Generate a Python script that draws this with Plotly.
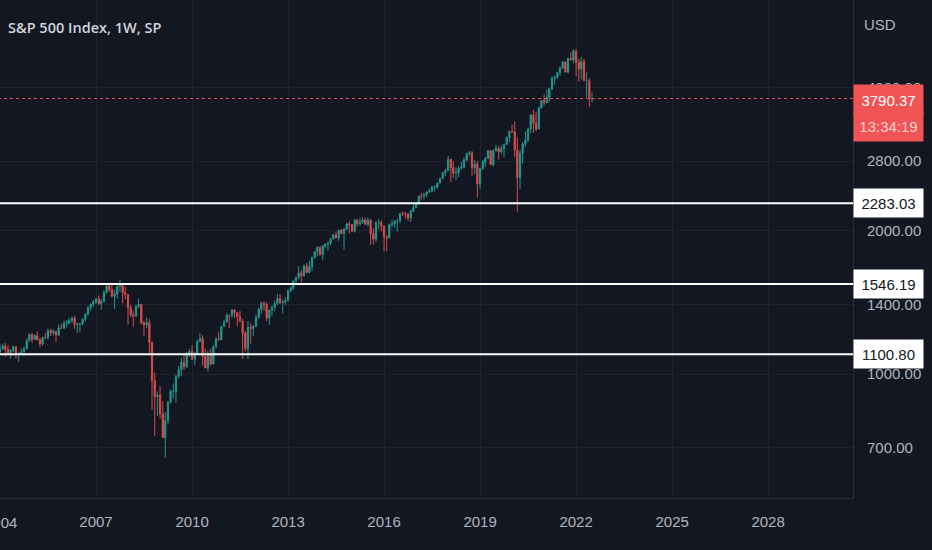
import math
import pandas as pd
import plotly.graph_objects as go

# S&P 500 monthly bars, Dec 2003 .. Jul 2022 (values read off the chart / estimated)
closes = [
    1111.92,
    1131.13, 1144.94, 1126.21, 1107.30, 1120.68, 1140.84, 1101.72, 1104.24, 1114.58, 1130.20, 1173.82, 1211.92,
    1181.27, 1203.60, 1180.59, 1156.85, 1191.50, 1191.33, 1234.18, 1220.33, 1228.81, 1207.01, 1249.48, 1248.29,
    1280.08, 1280.66, 1294.87, 1310.61, 1270.09, 1270.20, 1276.66, 1303.82, 1335.85, 1377.94, 1400.63, 1418.30,
    1438.24, 1406.82, 1420.86, 1482.37, 1530.62, 1503.35, 1455.27, 1473.99, 1526.75, 1549.38, 1481.14, 1468.36,
    1378.55, 1330.63, 1322.70, 1385.59, 1400.38, 1280.00, 1267.38, 1282.83, 1166.36, 968.75, 896.24, 903.25,
    825.88, 735.09, 797.87, 872.81, 919.14, 919.32, 987.48, 1020.62, 1057.08, 1036.19, 1095.63, 1115.10,
    1073.87, 1104.49, 1169.43, 1186.69, 1089.41, 1030.71, 1101.60, 1049.33, 1141.20, 1183.26, 1180.55, 1257.64,
    1286.12, 1327.22, 1325.83, 1363.61, 1345.20, 1320.64, 1292.28, 1218.89, 1131.42, 1253.30, 1246.96, 1257.60,
    1312.41, 1365.68, 1408.47, 1397.91, 1310.33, 1362.16, 1379.32, 1406.58, 1440.67, 1412.16, 1416.18, 1426.19,
    1498.11, 1514.68, 1569.19, 1597.57, 1630.74, 1606.28, 1685.73, 1632.97, 1681.55, 1756.54, 1805.81, 1848.36,
    1782.59, 1859.45, 1872.34, 1883.95, 1923.57, 1960.23, 1930.67, 2003.37, 1972.29, 2018.05, 2067.56, 2058.90,
    1994.99, 2104.50, 2067.89, 2085.51, 2107.39, 2063.11, 2103.84, 1972.18, 1920.03, 2079.36, 2080.41, 2043.94,
    1940.24, 1932.23, 2059.74, 2065.30, 2096.95, 2098.86, 2173.60, 2170.95, 2168.27, 2126.15, 2198.81, 2238.83,
    2278.87, 2363.64, 2362.72, 2384.20, 2411.80, 2423.41, 2470.30, 2471.65, 2519.36, 2575.26, 2647.58, 2673.61,
    2823.81, 2713.83, 2640.87, 2648.05, 2705.27, 2718.37, 2816.29, 2901.52, 2913.98, 2711.74, 2760.17, 2506.85,
    2704.10, 2784.49, 2834.40, 2945.83, 2752.06, 2941.76, 2980.38, 2926.46, 2976.74, 3037.56, 3140.98, 3230.78,
    3225.52, 2954.22, 2584.59, 2912.43, 3044.31, 3100.29, 3271.12, 3500.31, 3363.00, 3269.96, 3621.63, 3756.07,
    3714.24, 3811.15, 3972.89, 4181.17, 4204.11, 4297.50, 4395.26, 4522.68, 4307.54, 4605.38, 4567.00, 4766.18,
    4515.55, 4373.94, 4530.41, 4131.93, 4132.15, 3785.38, 3790.37,
]

highs = [
    1155, 1158, 1163, 1151, 1128, 1146, 1140, 1109, 1132, 1142, 1188, 1217,
    1217, 1212, 1229, 1191, 1199, 1219, 1246, 1245, 1243, 1233, 1270, 1276,
    1295, 1298, 1311, 1318, 1326, 1285, 1280, 1307, 1340, 1390, 1407, 1431,
    1441, 1462, 1439, 1499, 1535, 1540, 1556, 1503, 1538, 1576, 1545, 1523,
    1471, 1396, 1359, 1397, 1440, 1404, 1293, 1313, 1304, 1167, 1007, 919,
    943, 876, 832, 877, 930, 956, 996, 1040, 1080, 1101, 1113, 1130,
    1150, 1113, 1180, 1220, 1207, 1131, 1120, 1130, 1148, 1196, 1227, 1263,
    1302, 1344, 1333, 1366, 1371, 1346, 1357, 1307, 1230, 1292, 1277, 1269,
    1334, 1378, 1420, 1422, 1415, 1364, 1392, 1426, 1475, 1471, 1434, 1448,
    1504, 1530, 1570, 1598, 1687, 1654, 1698, 1710, 1730, 1765, 1814, 1849,
    1851, 1868, 1884, 1897, 1925, 1968, 1992, 2006, 2019, 2018, 2076, 2093,
    2065, 2120, 2117, 2126, 2135, 2130, 2133, 2113, 2021, 2094, 2117, 2104,
    2039, 1962, 2073, 2111, 2103, 2121, 2178, 2194, 2188, 2175, 2214, 2278,
    2301, 2372, 2401, 2399, 2418, 2454, 2484, 2491, 2520, 2582, 2657, 2695,
    2873, 2836, 2801, 2718, 2742, 2791, 2848, 2917, 2941, 2940, 2815, 2800,
    2708, 2813, 2861, 2949, 2955, 2965, 3028, 3014, 3022, 3050, 3154, 3248,
    3338, 3394, 3136, 2955, 3068, 3233, 3280, 3514, 3588, 3550, 3646, 3760,
    3870, 3951, 3995, 4219, 4238, 4302, 4430, 4538, 4546, 4608, 4744, 4809,
    4819, 4595, 4637, 4593, 4307, 4178, 3900,
]

lows = [
    1105, 1124, 1087, 1107, 1076, 1113, 1078, 1060, 1099, 1090, 1127, 1173,
    1163, 1180, 1176, 1137, 1146, 1188, 1183, 1201, 1205, 1168, 1201, 1245,
    1245, 1253, 1268, 1280, 1245, 1219, 1224, 1265, 1290, 1327, 1360, 1385,
    1403, 1396, 1364, 1416, 1476, 1485, 1454, 1370, 1439, 1489, 1406, 1435,
    1270, 1317, 1257, 1325, 1373, 1272, 1200, 1248, 1107, 840, 741, 816,
    805, 735, 667, 783, 866, 888, 869, 979, 991, 1020, 1029, 1086,
    1071, 1045, 1101, 1170, 1041, 1028, 1011, 1040, 1047, 1132, 1173, 1187,
    1257, 1282, 1249, 1313, 1312, 1258, 1282, 1075, 1115, 1074, 1159, 1202,
    1259, 1312, 1341, 1358, 1292, 1267, 1326, 1355, 1396, 1403, 1343, 1398,
    1426, 1485, 1501, 1536, 1581, 1560, 1605, 1627, 1633, 1646, 1747, 1767,
    1770, 1737, 1834, 1815, 1860, 1915, 1930, 1905, 1964, 1821, 2001, 1973,
    1988, 1981, 2039, 2048, 2068, 2056, 2044, 1867, 1872, 1893, 2019, 1993,
    1812, 1810, 1937, 2034, 2025, 1992, 2075, 2148, 2120, 2097, 2084, 2187,
    2245, 2271, 2323, 2329, 2353, 2404, 2407, 2417, 2447, 2520, 2566, 2605,
    2683, 2533, 2586, 2553, 2594, 2691, 2699, 2796, 2864, 2604, 2631, 2347,
    2443, 2682, 2723, 2848, 2751, 2729, 2953, 2822, 2892, 2855, 3050, 3070,
    3214, 2855, 2192, 2447, 2766, 2999, 3073, 3205, 3210, 3234, 3279, 3633,
    3662, 3726, 3723, 3955, 4056, 4164, 4233, 4368, 4305, 4278, 4560, 4495,
    4223, 4115, 4157, 4131, 3811, 3637, 3722,
]

months = pd.date_range("2004-01-01", periods=len(highs), freq="MS")
opens = closes[:-1]
closes = closes[1:]

levels = [2283.03, 1546.19, 1100.80]
last_price = 3790.37
countdown = "13:34:19"

ytick_vals = [700, 1000, 1400, 2000, 2800, 4000]
ytick_text = ["700.00", "1000.00", "1400.00", "2000.00", "2800.00", "4000.00"]
xtick_years = [2007, 2010, 2013, 2016, 2019, 2022, 2025, 2028]
first_year = 2004  # label cut by the left edge

BG = "#131722"
GRID = "#1f232e"
AXIS_TXT = "#b2b5be"
UP = "#26a69a"
DOWN = "#ef5350"
FONT = "Liberation Sans, Arial, sans-serif"
TITLE_FONT = "Open Sans, Liberation Sans, sans-serif"

x_start, x_end = "2004-01-01", "2030-08-27"
line_x = ["2003-01-01", "2032-01-01"]

fig = go.Figure()

fig.add_trace(go.Candlestick(
    x=months, open=opens, high=highs, low=lows, close=closes,
    increasing=dict(line=dict(color=UP, width=1), fillcolor=UP),
    decreasing=dict(line=dict(color=DOWN, width=1), fillcolor=DOWN),
    opacity=0.9, showlegend=False, hoverinfo="skip",
))

# last price dotted line
fig.add_trace(go.Scatter(
    x=line_x, y=[last_price, last_price], mode="lines",
    line=dict(color=DOWN, width=1, dash="dot"), showlegend=False, hoverinfo="skip",
))

# horizontal support levels
for lv in levels:
    fig.add_trace(go.Scatter(
        x=line_x, y=[lv, lv], mode="lines",
        line=dict(color="#ffffff", width=2), showlegend=False, hoverinfo="skip",
    ))

anns = []
for lv in levels:
    anns.append(dict(
        x=1, xref="paper", xanchor="left", y=math.log10(lv), yref="y", yanchor="middle",
        text=f"{lv:.2f}", showarrow=False, bgcolor="#ffffff",
        font=dict(family=FONT, size=15, color="#131722"),
        width=61, height=20, borderpad=4, align="center",
    ))
# last price tag: price on top, bar countdown below
anns.append(dict(
    x=1, xref="paper", xanchor="left", y=math.log10(last_price), yref="y", yanchor="middle",
    yshift=-1, text=f"{last_price:.2f}", showarrow=False, bgcolor="#f05454",
    font=dict(family=FONT, size=15, color="#ffffff"),
    width=61, height=22, borderpad=4, align="center",
))
anns.append(dict(
    x=1, xref="paper", xanchor="left", y=math.log10(last_price), yref="y", yanchor="middle",
    yshift=-27, text=countdown, showarrow=False, bgcolor="#f05454",
    font=dict(family=FONT, size=15, color="#fbd3d3"),
    width=61, height=22, borderpad=4, align="center",
))
anns.append(dict(
    x=1, xref="paper", xanchor="left", xshift=9, y=1, yref="paper", yanchor="middle",
    yshift=-24, text="USD", showarrow=False,
    font=dict(family=FONT, size=15, color=AXIS_TXT),
))
anns.append(dict(
    x=x_start, xref="x", xanchor="center", y=0, yref="paper", yanchor="middle",
    yshift=-24, text=str(first_year), showarrow=False,
    font=dict(family=FONT, size=15, color=AXIS_TXT),
))
anns.append(dict(
    x=0, xref="paper", xanchor="left", xshift=6, y=1, yref="paper", yanchor="middle",
    yshift=-27, text="S&P 500 Index, 1W, SP", showarrow=False,
    font=dict(family=TITLE_FONT, size=14.5, color="#d1d4dc", weight=600),
))

fig.update_layout(
    width=932, height=550,
    margin=dict(l=0, r=79, t=0, b=52, autoexpand=False),
    paper_bgcolor=BG, plot_bgcolor=BG,
    annotations=anns,
    font=dict(family=FONT, size=15, color=AXIS_TXT),
)
fig.update_xaxes(
    type="date", range=[x_start, x_end],
    rangeslider=dict(visible=False),
    tickvals=[f"{y}-01-01" for y in xtick_years],
    ticktext=[str(y) for y in xtick_years],
    showgrid=True, gridcolor=GRID, gridwidth=1,
    showline=True, linecolor="#2a2e39", linewidth=1,
    ticks="", ticklabelstandoff=10, zeroline=False,
    tickfont=dict(family=FONT, size=15, color=AXIS_TXT),
)
fig.update_yaxes(
    type="log", side="right",
    range=[math.log10(548.9), math.log10(6106)],
    tickvals=ytick_vals, ticktext=ytick_text,
    showgrid=True, gridcolor=GRID, gridwidth=1,
    showline=True, linecolor="#2a2e39", linewidth=1,
    ticks="", ticklabelstandoff=10, zeroline=False,
    tickfont=dict(family=FONT, size=15, color=AXIS_TXT),
)

fig.write_html(
    "out.html",
    config={"displayModeBar": False},
    post_script="document.body.style.margin='0';",
)
